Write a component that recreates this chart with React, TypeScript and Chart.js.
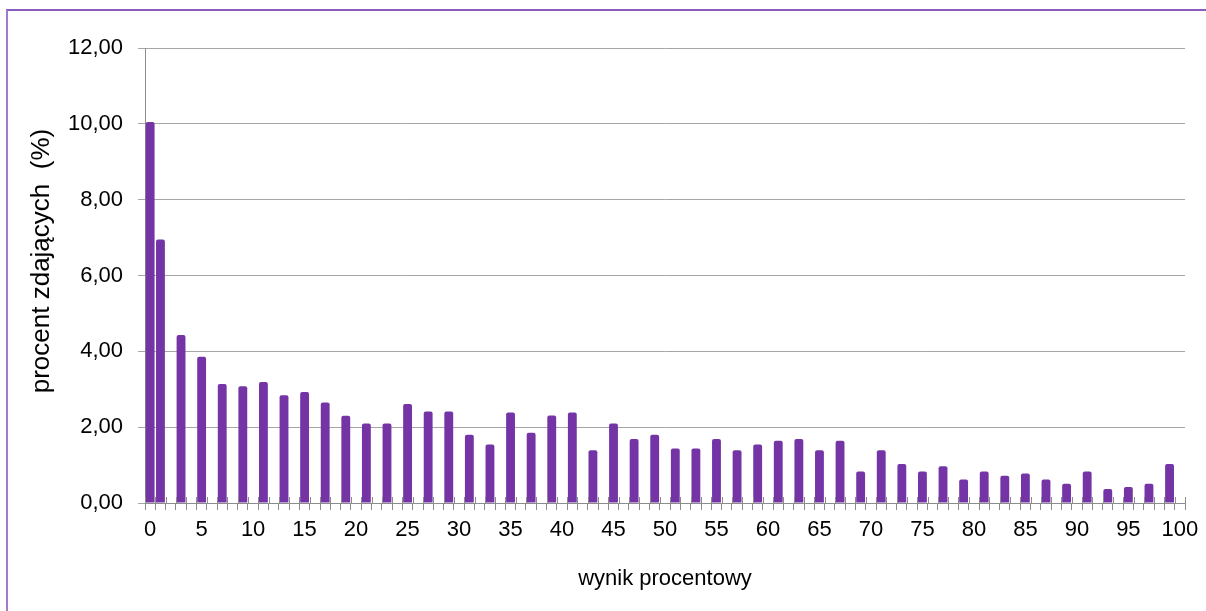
import React, { useEffect, useRef } from 'react';
import { Chart, registerables } from 'chart.js';

Chart.register(...registerables);

// category axis: every whole percent from 0 to 100
const categories: string[] = Array.from({ length: 101 }, (_, i) => String(i));

// scores (wynik procentowy) that have a bar
const scores = [
  0, 1, 3, 5, 7, 9, 11, 13, 15, 17, 19, 21, 23, 25, 27, 29, 31, 33, 35, 37, 39,
  41, 43, 45, 47, 49, 51, 53, 55, 57, 59, 61, 63, 65, 67, 69, 71, 73, 75, 77, 79,
  81, 83, 85, 87, 89, 91, 93, 95, 97, 99,
];

// percent of students (procent zdających)
const percents = [
  10.05, 6.95, 4.43, 3.86, 3.14, 3.08, 3.19, 2.84, 2.93, 2.65, 2.3, 2.1, 2.1,
  2.61, 2.41, 2.41, 1.8, 1.54, 2.39, 1.85, 2.31, 2.39, 1.39, 2.1, 1.69, 1.8,
  1.44, 1.44, 1.69, 1.39, 1.54, 1.64, 1.69, 1.39, 1.64, 0.83, 1.39, 1.03, 0.83,
  0.97, 0.62, 0.83, 0.72, 0.78, 0.62, 0.51, 0.83, 0.37, 0.42, 0.51, 1.03,
];

const yTicks = [0, 2, 4, 6, 8, 10, 12];

const FONT = '"Liberation Sans", Arial, sans-serif';
const GRID = '#a6a6a6';
const AXIS = '#8c8c8c';
const BAR = '#7434a6';

const crossTicks = {
  id: 'crossTicks',
  afterDatasetsDraw(chart: any) {
    const xs = chart.scales.x;
    const ctx = chart.ctx;
    const bottom = chart.chartArea.bottom;
    const step = xs.getPixelForValue(1) - xs.getPixelForValue(0);
    ctx.save();
    ctx.strokeStyle = AXIS;
    ctx.lineWidth = 1;
    for (let i = 0; i <= categories.length; i++) {
      const px = Math.round(xs.getPixelForValue(0) - step / 2 + i * step) + 0.5;
      ctx.beginPath();
      ctx.moveTo(px, bottom - 6);
      ctx.lineTo(px, bottom);
      ctx.stroke();
    }
    ctx.restore();
  },
};

export default function App() {
  const ref = useRef<HTMLCanvasElement | null>(null);

  useEffect(() => {
    if (!ref.current) return;
    const data = scores.map((s, i) => ({ x: String(s), y: percents[i] }));
    const chart = new Chart(ref.current, {
      type: 'bar',
      data: {
        labels: categories,
        datasets: [
          {
            data: data as any,
            backgroundColor: BAR,
            borderColor: BAR,
            borderWidth: 0,
            borderRadius: { topLeft: 2, topRight: 2, bottomLeft: 0, bottomRight: 0 },
            borderSkipped: 'bottom',
            categoryPercentage: 1,
            barPercentage: 0.86,
          },
        ],
      },
      options: {
        responsive: false,
        animation: false,
        devicePixelRatio: 1,
        layout: { padding: { left: 0, right: 21, top: 48, bottom: 0 } },
        plugins: {
          legend: { display: false },
          tooltip: { enabled: false },
        },
        scales: {
          x: {
            type: 'category',
            offset: true,
            grid: {
              display: true,
              offset: true,
              drawOnChartArea: false,
              drawTicks: true,
              tickLength: 7,
              color: AXIS,
              lineWidth: 1,
            },
            border: { display: true, color: AXIS, width: 1 },
            ticks: {
              autoSkip: false,
              maxRotation: 0,
              minRotation: 0,
              padding: 7,
              color: '#000',
              font: { family: FONT, size: 22 },
              callback: (_v: any, idx: number) => (idx % 5 === 0 ? categories[idx] : ''),
            },
            title: {
              display: true,
              text: 'wynik procentowy',
              color: '#000',
              font: { family: FONT, size: 22 },
              padding: { top: 0, bottom: 19 },
            },
            afterFit: (s: any) => {
              s.height = 108;
            },
          },
          y: {
            min: 0,
            max: 12,
            afterBuildTicks: (s: any) => {
              s.ticks = yTicks.map((v) => ({ value: v }));
            },
            grid: {
              color: GRID,
              lineWidth: 1,
              tickLength: 7,
              drawTicks: true,
            },
            border: { display: true, color: AXIS, width: 1 },
            ticks: {
              padding: 15,
              color: '#000',
              font: { family: FONT, size: 22 },
              callback: (v: any) => Number(v).toFixed(2).replace('.', ','),
            },
            title: {
              display: true,
              text: '\u00a0\u00a0\u00a0\u00a0procent zdających  (%)',
              color: '#000',
              font: { family: FONT, size: 26 },
              padding: { top: 26, bottom: 0 },
            },
            afterFit: (s: any) => {
              s.width = 145;
            },
          },
        },
      },
      plugins: [crossTicks],
    });
    return () => chart.destroy();
  }, []);

  return (
    <div
      style={{
        position: 'fixed',
        left: 0,
        top: 0,
        width: 1206,
        height: 611,
        overflow: 'hidden',
        background: '#fff',
      }}
    >
      <div
        style={{
          position: 'absolute',
          left: 6,
          top: 9,
          width: 1300,
          height: 700,
          borderLeft: '2px solid #a27ccb',
          borderTop: '2px solid #8b5cbd',
          boxSizing: 'border-box',
        }}
      />
      <canvas
        ref={ref}
        width={1206}
        height={611}
        style={{ position: 'absolute', left: 0, top: 0, width: 1206, height: 611 }}
      />
    </div>
  );
}
